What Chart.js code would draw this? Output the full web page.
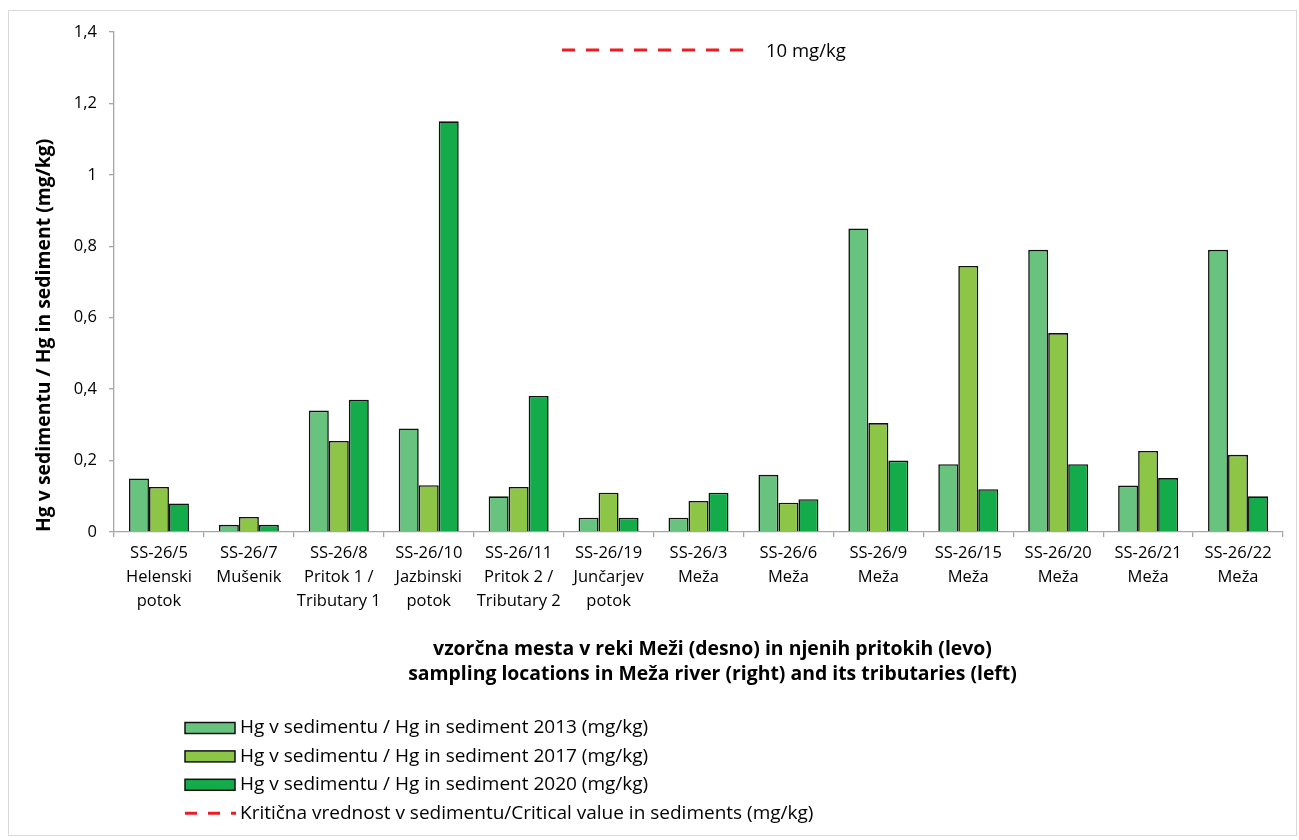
<!DOCTYPE html>
<html><head><meta charset="utf-8">
<script src="https://cdn.jsdelivr.net/npm/chart.js@4"></script>
<style>html,body{margin:0;padding:0;background:#fff}#wrap{position:relative;width:1299px;height:840px}</style>
</head><body><div id="wrap"><canvas id="c" width="1299" height="840"></canvas></div>
<script>
// ---- data ----
const categories = [
  ["SS-26/5","Helenski","potok"],
  ["SS-26/7","Mušenik"],
  ["SS-26/8","Pritok 1 /","Tributary 1"],
  ["SS-26/10","Jazbinski","potok"],
  ["SS-26/11","Pritok 2 /","Tributary 2"],
  ["SS-26/19","Junčarjev","potok"],
  ["SS-26/3","Meža"],
  ["SS-26/6","Meža"],
  ["SS-26/9","Meža"],
  ["SS-26/15","Meža"],
  ["SS-26/20","Meža"],
  ["SS-26/21","Meža"],
  ["SS-26/22","Meža"]
];
const seriesLabels = [
  "Hg v sedimentu / Hg in sediment 2013 (mg/kg)",
  "Hg v sedimentu / Hg in sediment 2017 (mg/kg)",
  "Hg v sedimentu / Hg in sediment 2020 (mg/kg)",
  "Kritična vrednost v sedimentu/Critical value in sediments (mg/kg)"
];
const hg2013 = [0.15, 0.02, 0.34, 0.29, 0.10, 0.04, 0.04, 0.16, 0.85, 0.19, 0.79, 0.13, 0.79];
const hg2017 = [0.126, 0.042, 0.255, 0.131, 0.126, 0.11, 0.087, 0.082, 0.305, 0.745, 0.557, 0.227, 0.216];
const hg2020 = [0.08, 0.02, 0.37, 1.15, 0.381, 0.04, 0.11, 0.092, 0.20, 0.12, 0.19, 0.151, 0.10];
const criticalValue = [10, 10, 10, 10, 10, 10, 10, 10, 10, 10, 10, 10, 10];
const yTickValues = [0, 0.2, 0.4, 0.6, 0.8, 1, 1.2, 1.4];
const yTitle = "Hg v sedimentu / Hg in sediment (mg/kg)";
const xTitle = ["vzorčna mesta v reki Meži (desno) in njenih pritokih (levo)",
                "sampling locations in Meža river (right) and its tributaries (left)"];
const criticalLabel = criticalValue[0] + " mg/kg";

// ---- styles ----
const FONT = "'Open Sans'";
const colors = ["#68C37F", "#8DC647", "#14AC4B"];
const RED = "#EC1C24";
const AXIS = "#A6A6A6";

const frame = {
  id: "frame",
  beforeDraw(chart) {
    const ctx = chart.ctx;
    ctx.save();
    ctx.fillStyle = "#fff";
    ctx.fillRect(0, 0, chart.width, chart.height);
    ctx.strokeStyle = "#D9D9D9";
    ctx.lineWidth = 1;
    ctx.strokeRect(8.5, 10.5, 1288, 825);
    ctx.restore();
  }
};

const extras = {
  id: "extras",
  afterDraw(chart) {
    const ctx = chart.ctx;
    const area = chart.chartArea;
    ctx.save();
    // x title
    ctx.fillStyle = "#000";
    ctx.font = "bold 19.4px " + FONT;
    ctx.textAlign = "center";
    ctx.textBaseline = "middle";
    const cx = (area.left + area.right) / 2 + 14;
    xTitle.forEach((t, i) => ctx.fillText(t, cx, 649 + i * 25));
    // critical value note at top
    ctx.strokeStyle = RED;
    ctx.lineWidth = 3;
    ctx.setLineDash([13, 11]);
    ctx.beginPath();
    ctx.moveTo(562, 50); ctx.lineTo(745, 50);
    ctx.stroke();
    ctx.setLineDash([]);
    ctx.fillStyle = "#000";
    ctx.font = "18.5px " + FONT;
    ctx.textAlign = "left";
    ctx.fillText(criticalLabel, 766, 52);
    // legend
    const dsets = chart.data.datasets;
    ctx.font = "19px " + FONT;
    dsets.forEach((ds, i) => {
      const y = 728 + i * 28.4;
      if (ds.type === "line") {
        ctx.strokeStyle = ds.borderColor;
        ctx.lineWidth = 3;
        ctx.setLineDash([12, 11]);
        ctx.beginPath();
        ctx.moveTo(185, y); ctx.lineTo(236, y);
        ctx.stroke();
        ctx.setLineDash([]);
      } else {
        ctx.fillStyle = ds.backgroundColor;
        ctx.fillRect(185, y - 5.5, 50, 11);
        ctx.strokeStyle = "#111";
        ctx.lineWidth = 1.5;
        ctx.strokeRect(185, y - 5.5, 50, 11);
      }
      ctx.fillStyle = "#000";
      ctx.textAlign = "left";
      ctx.textBaseline = "middle";
      ctx.fillText(ds.label, 240, y);
    });
    ctx.restore();
  }
};

const barDs = (i, data) => ({
  type: "bar",
  label: seriesLabels[i],
  data: data,
  backgroundColor: colors[i],
  borderColor: "#111",
  borderWidth: 1.6,
  categoryPercentage: 0.667,
  barPercentage: 1.0
});

new Chart(document.getElementById("c"), {
  data: {
    labels: categories,
    datasets: [
      barDs(0, hg2013),
      barDs(1, hg2017),
      barDs(2, hg2020),
      {
        type: "line",
        label: seriesLabels[3],
        data: criticalValue,
        borderColor: RED,
        borderWidth: 3,
        borderDash: [12, 11],
        pointRadius: 0,
        fill: false
      }
    ]
  },
  options: {
    responsive: false,
    devicePixelRatio: 1,
    animation: false,
    layout: { padding: { left: 0, right: 16, top: 32, bottom: 0 } },
    plugins: { legend: { display: false }, tooltip: { enabled: false } },
    scales: {
      x: {
        offset: true,
        grid: { display: true, offset: true, drawOnChartArea: false, drawTicks: true, tickLength: 5, color: AXIS, lineWidth: 1.3 },
        border: { display: true, color: AXIS, width: 1.3 },
        ticks: { color: "#000", font: { family: FONT, size: 16.5, lineHeight: 1.45 }, padding: 4, maxRotation: 0, autoSkip: false },
        afterFit(scale) { scale.height = 308; }
      },
      y: {
        min: 0, max: 1.4,
        afterBuildTicks(scale) { scale.ticks = yTickValues.map(v => ({ value: v })); },
        grid: { display: true, drawOnChartArea: false, drawTicks: true, tickLength: 5, color: AXIS, lineWidth: 1.3 },
        border: { display: true, color: AXIS, width: 1.3 },
        ticks: {
          color: "#000", padding: 12, font: { family: FONT, size: 16.5 },
          callback: v => String(Math.round(v * 10) / 10).replace(".", ",")
        },
        title: { display: true, text: yTitle, align: "start", color: "#000", font: { family: FONT, size: 19.4, weight: "bold" }, padding: { top: 33, bottom: 0 } },
        afterFit(scale) { scale.width = 114; }
      }
    }
  },
  plugins: [frame, extras]
});
</script>
</body></html>
